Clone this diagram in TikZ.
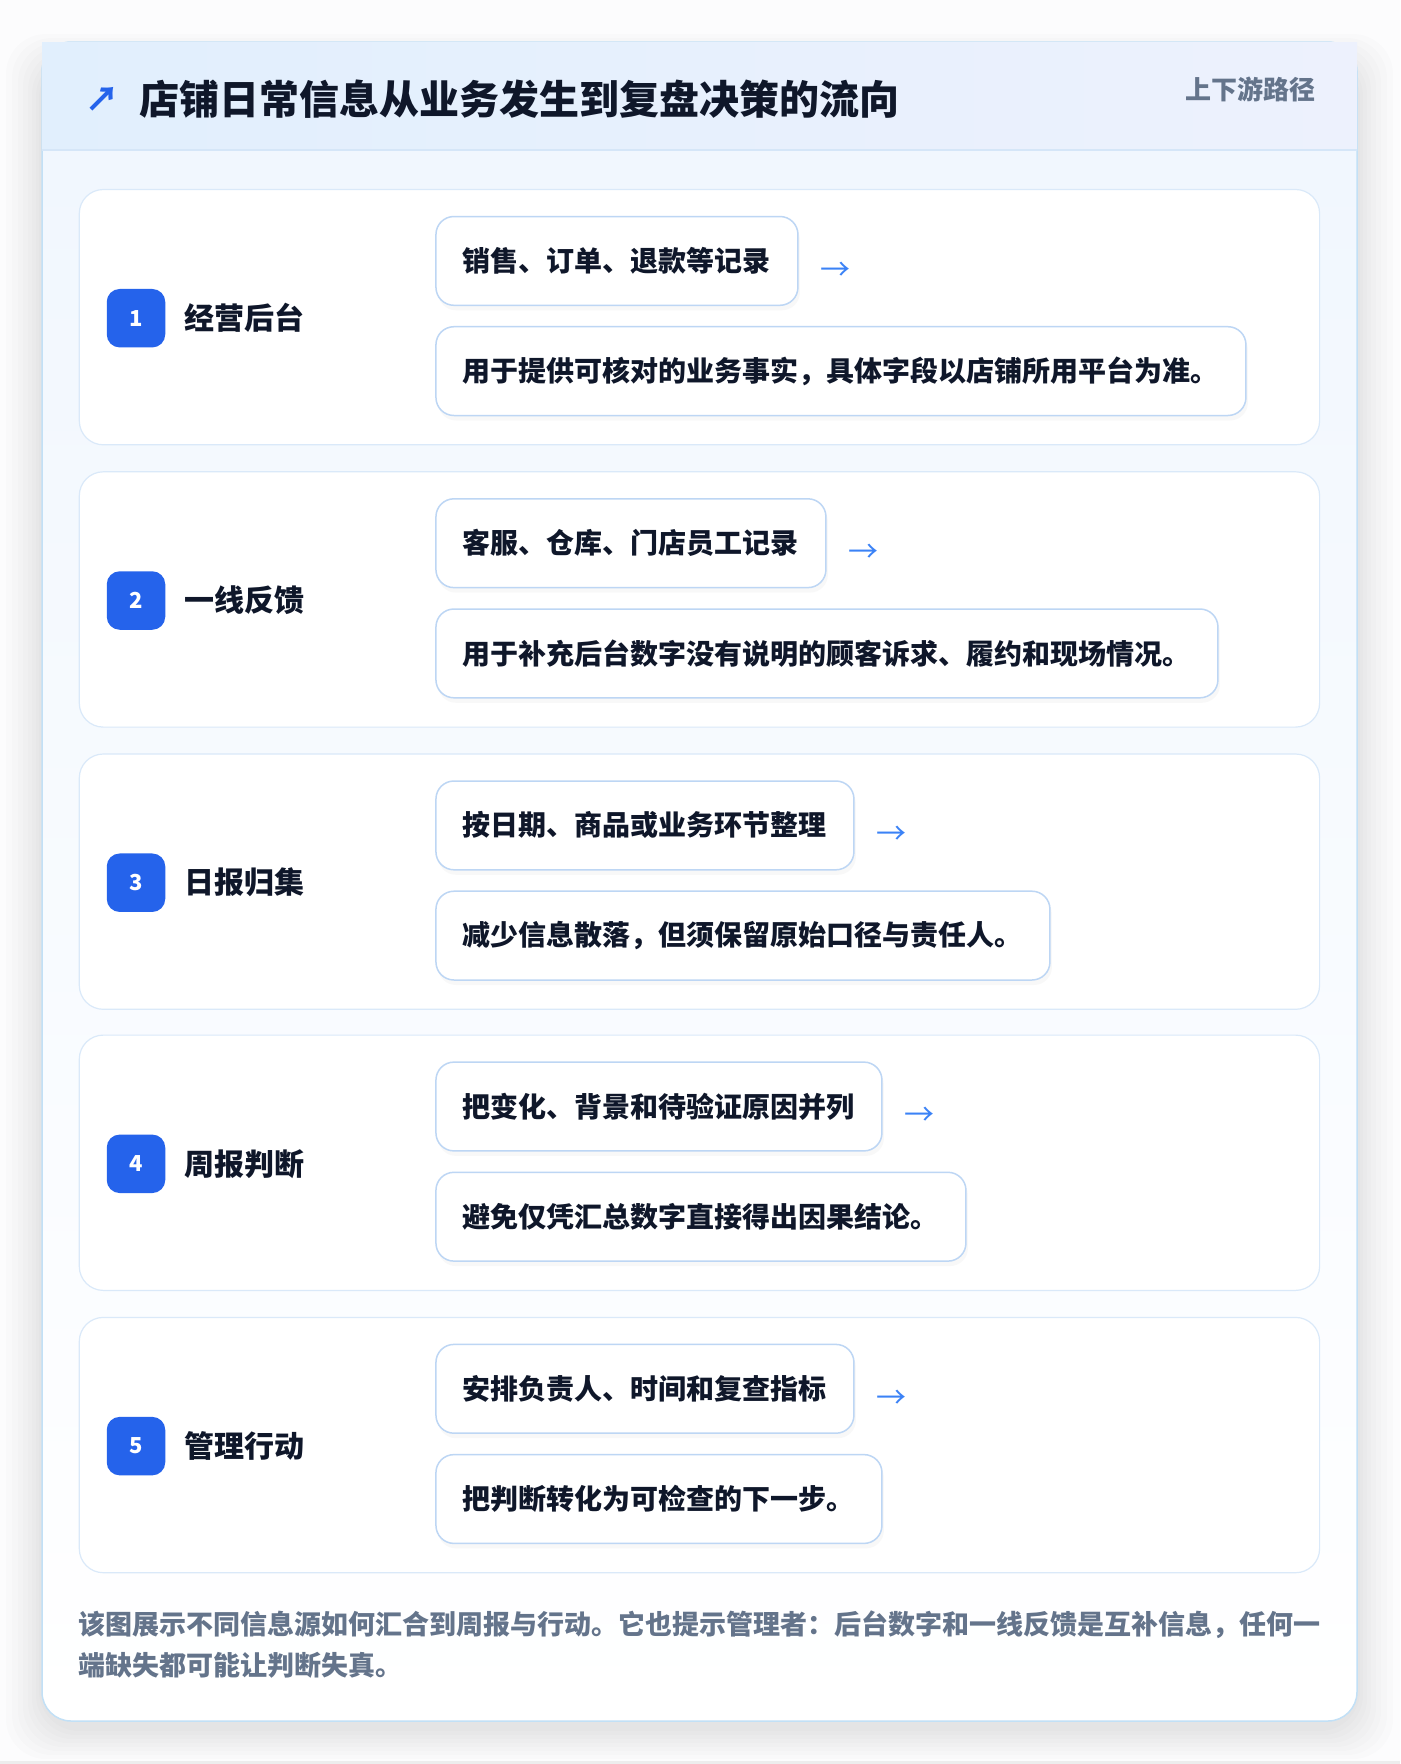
\documentclass[tikz,border=0pt]{standalone}
\usepackage{fontspec}
\setmainfont{Noto Sans CJK SC}
\usetikzlibrary{positioning,shadows}

\definecolor{pagebg}{HTML}{FCFCFD}
\definecolor{cardline}{HTML}{C2E0F6}
\definecolor{cardbody}{HTML}{F1F7FE}
\definecolor{headleft}{HTML}{E1EFFD}
\definecolor{headright}{HTML}{EDF1FD}
\definecolor{headline}{HTML}{D5E6F8}
\definecolor{rowline}{HTML}{DAE9F9}
\definecolor{boxline}{HTML}{BDD6F4}
\definecolor{badgeblue}{HTML}{2563EB}
\definecolor{arrowblue}{HTML}{3B82F6}
\definecolor{inkdark}{HTML}{0F172A}
\definecolor{inkgray}{HTML}{64748B}

\tikzset{
  rowbox/.style={draw=rowline, line width=1.2pt, fill=white, rounded corners=24pt,
    minimum width=1240.3pt, minimum height=255.3pt, anchor=north west, inner sep=0pt},
  infobox/.style={draw=boxline, line width=1.5pt, fill=white, rounded corners=18pt,
    minimum height=88.8pt, inner xsep=27pt, inner ysep=0pt, anchor=west, text=inkdark,
    font=\fontsize{28}{34}\selectfont\bfseries,
    drop shadow={opacity=0.05, shadow xshift=2pt, shadow yshift=-5pt}},
  badge/.style={fill=badgeblue, rounded corners=13pt, minimum size=58.5pt, inner sep=0pt,
    text=white, font=\fontsize{22}{26}\selectfont\bfseries},
  stagelabel/.style={anchor=west, inner sep=0pt, text=inkdark,
    font=\fontsize{30}{36}\selectfont\bfseries},
  flowarrow/.style={inner sep=0pt, text=arrowblue, font=\fontsize{30}{36}\selectfont},
  cardshadow/.style={black, opacity=0.011, rounded corners=40pt},
}

\begin{document}
\begin{tikzpicture}[x=1pt,y=-1pt]
\useasboundingbox (0,0) rectangle (1400,1764);
\fill[pagebg] (0,0) rectangle (1400,1764);
\fill[black!7] (0,1761) rectangle (1400,1764);

% card shadow
\fill[cardshadow] (6,34) rectangle (1393,1759);
\fill[cardshadow] (12,38) rectangle (1387,1755);
\fill[cardshadow] (18,42) rectangle (1381,1751);
\fill[cardshadow] (23,46) rectangle (1376,1747);
\fill[cardshadow] (28,50) rectangle (1371,1743);
\fill[cardshadow] (32,54) rectangle (1367,1739);
\fill[cardshadow] (36,56) rectangle (1363,1735);
\fill[cardshadow] (39,58) rectangle (1360,1731);

% card and header
\fill[white, rounded corners=29pt] (42,42) rectangle (1357,1721);
\begin{scope}
  \clip[rounded corners=29pt] (42,42) rectangle (1357,1721);
  \shade[top color=cardbody, bottom color=white] (42,150) rectangle (1357,1721);
\end{scope}
\draw[cardline, line width=1.5pt, rounded corners=29pt] (42,42) rectangle (1357,1721);
\shade[left color=headleft, right color=headright] (42,42) rectangle (1357,150);
\draw[headline, line width=1.2pt] (42,150) -- (1357,150);

\node[text=badgeblue, inner sep=0pt, font=\fontsize{34}{40}\selectfont\bfseries] (titlearrow) at (102,99) {↗};
\node[anchor=west, inner sep=0pt, text=inkdark, font=\fontsize{40}{48}\selectfont\bfseries] (title) at (139.4,99) {店铺日常信息从业务发生到复盘决策的流向};
\node[anchor=east, inner sep=0pt, text=inkgray, font=\fontsize{26}{31}\selectfont\bfseries] (tag) at (1316,89) {上下游路径};

% stage 1
\node[rowbox] (row1) at (78.7,188.9) {};
\node[badge] (badge1) at (136,318.2) {1};
\node[stagelabel] (stage1) at (184.4,318.2) {经营后台};
\node[infobox] (top1) at (435.2,260.9) {销售、订单、退款等记录};
\node[flowarrow, right=22pt of top1, yshift=-10pt] (arrow1) {→};
\node[infobox] (note1) at (435.2,371.1) {用于提供可核对的业务事实，具体字段以店铺所用平台为准。};

% stage 2
\node[rowbox] (row2) at (78.7,471.2) {};
\node[badge] (badge2) at (136,600.5) {2};
\node[stagelabel] (stage2) at (184.4,600.5) {一线反馈};
\node[infobox] (top2) at (435.2,543.2) {客服、仓库、门店员工记录};
\node[flowarrow, right=22pt of top2, yshift=-10pt] (arrow2) {→};
\node[infobox] (note2) at (435.2,653.4) {用于补充后台数字没有说明的顾客诉求、履约和现场情况。};

% stage 3
\node[rowbox] (row3) at (78.7,753.4) {};
\node[badge] (badge3) at (136,882.7) {3};
\node[stagelabel] (stage3) at (184.4,882.7) {日报归集};
\node[infobox] (top3) at (435.2,825.4) {按日期、商品或业务环节整理};
\node[flowarrow, right=22pt of top3, yshift=-10pt] (arrow3) {→};
\node[infobox] (note3) at (435.2,935.6) {减少信息散落，但须保留原始口径与责任人。};

% stage 4
\node[rowbox] (row4) at (78.7,1034.5) {};
\node[badge] (badge4) at (136,1163.8) {4};
\node[stagelabel] (stage4) at (184.4,1163.8) {周报判断};
\node[infobox] (top4) at (435.2,1106.5) {把变化、背景和待验证原因并列};
\node[flowarrow, right=22pt of top4, yshift=-10pt] (arrow4) {→};
\node[infobox] (note4) at (435.2,1216.7) {避免仅凭汇总数字直接得出因果结论。};

% stage 5
\node[rowbox] (row5) at (78.7,1316.8) {};
\node[badge] (badge5) at (136,1446.1) {5};
\node[stagelabel] (stage5) at (184.4,1446.1) {管理行动};
\node[infobox] (top5) at (435.2,1388.8) {安排负责人、时间和复查指标};
\node[flowarrow, right=22pt of top5, yshift=-10pt] (arrow5) {→};
\node[infobox] (note5) at (435.2,1499) {把判断转化为可检查的下一步。};

% footer
\node[anchor=west, inner sep=0pt, align=left, text=inkgray, font=\fontsize{27}{41.6}\selectfont\bfseries] (footnote) at (78.7,1644.6) {该图展示不同信息源如何汇合到周报与行动。它也提示管理者：后台数字和一线反馈是互补信息，任何一\\端缺失都可能让判断失真。};
\end{tikzpicture}
\end{document}
